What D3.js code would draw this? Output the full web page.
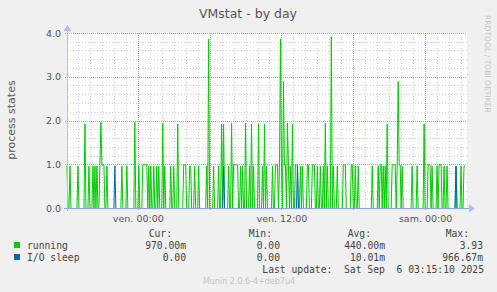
<!DOCTYPE html>
<html>
<head>
<meta charset="utf-8">
<script src="https://cdn.jsdelivr.net/npm/d3@7"></script>
<style>
  body { margin: 0; background: #f0f0f0; }
  svg { display: block; }
  text { font-family: "DejaVu Sans", sans-serif; fill: #555; }
  .mono { font-family: "DejaVu Sans Mono", monospace; white-space: pre; fill: #444; }
  .grid line { shape-rendering: crispEdges; }
</style>
</head>
<body>
<div id="svg-area"></div>
<script>
var svgWidth = 497;
var svgHeight = 292;

// plot area (munin default 400x175)
var plot = { left: 67, top: 33, width: 400, height: 175 };

// data: 5 minute samples, first one at jeu. 18:05
var startTime = new Date(2025, 8, 4, 18, 5);
var stepMinutes = 5;

var running = [
  0.97,0,0,0.97,0,0,0,0,0,0, 0,0.97,0,0,0,0,0,0,1.93,0,
  0,0,0.97,0,0,0,0.97,0,0.97,0, 0.97,0,0,1,1.97,1,1,1,0,0,
  0.97,0,0,0,0,0,0,0,0,0, 0,0,0,0,0,0.97,0,0,0,0,
  0.97,0,0,0,0,0,0,0,1.97,0, 0,0,0.97,0,0,0,1,1,1,1,
  1,0,0.97,0,0.97,0,0,0.97,0,0, 0.97,0,0.97,0,0,0,1.95,0,0.97,0,
  0,0,0,0,0.97,0,0,0.97,0,0, 0,1.93,0,0,0,0,0,1,1,1,
  0,0,0,0.97,0.97,0,0,0,0.97,0, 0,0,0.97,0,0,0,0,0,0,0,
  0.97,0,3.87,0,0,0,0,0.97,0,0, 0,0,0.97,0,0,1.93,0,1.93,0,0,
  0,0,0.97,0,0,1.95,0,1,1,1, 1,1,0,0,0.97,0,0.97,0,0,1.95,
  0,0,0,0.97,0,1.93,0,0.97,0,0, 0,0,1.93,0,0,0,0.97,0,1.93,0,
  0.97,0,0,0,0,0,0.97,0,0,1, 1,1,0,1,3.87,0.97,0,2.9,1,1,
  0,1.95,1,0,0.97,0,1.93,0,0,1, 1,1,0,0,0.97,0,0.97,0,0,0,
  0,1,1,0,0,0,1,1,1,0, 0,0.97,0,0,0.97,0,0,0.97,0,1.95,
  0,0.97,0,0,0,3.93,0,0.97,0,0, 0,0.97,0,0,0,0,0,1,1,1,
  0,0,0,0,0,1,1,0,0,0.97, 0,0,0.97,0,0,0,0,0,0,0,
  0,0,0,0,0,0,0.97,0,0,0, 0,0,0.97,0,1,1,0,0.97,0,0.97,
  0,1.93,0,0,0,0,1,1,1,1, 0,0.97,2.9,1,1,0,0.97,0,0,0,
  0,0,0,0,0,0,0.97,0,0,0, 0,0.97,0,0,0,0,0,0,1.93,0,
  0,0,1,1,1,0,0.97,0,0,0, 0,0.97,0,1,1,1,0,0,0.97,0,
  0,0.97,0,0,0,0,0,0,0,0, 0.97,0,0,0,0,0.97,0,0,0.97,0.97
];

var ioSleep = [
  0,0,0,0,0,0,0,0,0,0, 0,0,0,0,0,0,0,0,0,0,
  0,0,0,0,0,0,0,0,0,0, 0,0,0,0,0,0,0,0,0,0,
  0,0,0,0,0,0,0,0,0.97,0, 0,0,0,0,0,0,0,0,0,0,
  0,0,0,0,0,0,0,0,0,0, 0,0,0,0,0,0,0,0,0,0,
  0,0,0,0,0,0,0,0,0,0, 0,0,0,0,0,0,0,0,0,0,
  0,0,0,0,0,0,0,0,0,0, 0,0,0,0,0,0,0,0,0,0,
  0,0,0,0,0,0,0,0,0,0, 0,0,0,0,0,0,0,0,0,0,
  0,0,0,0,0,0,0,0,0,0, 0,0,0,0,0,0,0,0.97,0,0,
  0,0,0,0,0,0,0,0,0,0, 0,0,0,0,0,0,0,0,0,0,
  0,0,0,0,0,0,0,0,0,0, 0,0,0,0,0,0,0,0,0,0,
  0,0,0,0,0,0,0,0,0,0, 0,0,0,0,0,0,0,0,0,0,
  0,0,0,0,0,0,0,0,0,0, 0,0.97,0,0,0,0,0,0,0,0,
  0,0,0,0,0,0,0,0,0,0, 0,0,0,0,0,0,0,0,0,0,
  0,0,0,0,0,0,0,0,0,0, 0,0,0,0,0,0,0,0,0,0,
  0,0,0,0,0,0,0,0,0,0, 0,0,0,0,0,0,0,0,0,0,
  0,0,0,0,0,0,0,0,0,0, 0,0,0,0,0,0,0,0,0,0,
  0,0,0,0,0,0,0,0,0,0, 0,0,0,0,0,0,0,0,0,0,
  0,0,0,0,0,0,0,0,0,0, 0,0,0,0,0,0,0,0,0,0,
  0,0,0,0,0,0,0,0,0,0, 0,0,0,0,0,0,0,0,0,0,
  0,0,0,0,0,0,0,0,0,0, 0.97,0,0,0,0,0,0,0,0,0
];

var yTicks = [0, 1, 2, 3, 4];
var xTickTimes = [new Date(2025, 8, 5, 0, 0), new Date(2025, 8, 5, 12, 0), new Date(2025, 8, 6, 0, 0)];
var xTickLabels = ["ven. 00:00", "ven. 12:00", "sam. 00:00"];

var seriesNames = ["running", "I/O sleep"];
var seriesColors = ["#00cc00", "#0066b3"];
var statHeads = ["Cur:", "Min:", "Avg:", "Max:"];
var statValues = [
  ["970.00m", "0.00", "440.00m", "3.93"],
  ["0.00", "0.00", "10.01m", "966.67m"]
];
var lastUpdate = "Last update:  Sat Sep  6 03:15:10 2025";

function timeAt(i) {
  return new Date(startTime.getTime() + i * stepMinutes * 60000);
}
var endTime = timeAt(running.length + 1);

var svg = d3.select("#svg-area").append("svg")
  .attr("width", svgWidth)
  .attr("height", svgHeight);

svg.append("rect").attr("width", svgWidth).attr("height", svgHeight).attr("fill", "#f0f0f0");

var xScale = d3.scaleTime()
  .domain([startTime, endTime])
  .range([plot.left, plot.left + plot.width]);

var yScale = d3.scaleLinear()
  .domain([0, 4])
  .range([plot.top + plot.height, plot.top]);

// white canvas
svg.append("rect")
  .attr("x", plot.left).attr("y", plot.top)
  .attr("width", plot.width).attr("height", plot.height)
  .attr("fill", "#fff");

var grid = svg.append("g").attr("class", "grid");
function px(v) { return Math.round(v) + 0.5; }

// minor grid
var minorH = d3.range(0.2, 4.01, 0.2).filter(function(v) { return Math.abs(v - Math.round(v)) > 0.01; });
grid.selectAll(".hmin").data(minorH).enter().append("line")
  .attr("x1", plot.left).attr("x2", plot.left + plot.width)
  .attr("y1", function(d) { return px(yScale(d)); })
  .attr("y2", function(d) { return px(yScale(d)); })
  .attr("stroke", "#d0d0d0").attr("stroke-dasharray", "1,2");

var hours = d3.timeHour.every(1).range(startTime, endTime);
var minorV = hours.filter(function(d) { return d.getHours() % 6 != 0; });
var majorV = hours.filter(function(d) { return d.getHours() % 6 == 0; });

grid.selectAll(".vmin").data(minorV).enter().append("line")
  .attr("x1", function(d) { return px(xScale(d)); })
  .attr("x2", function(d) { return px(xScale(d)); })
  .attr("y1", plot.top).attr("y2", plot.top + plot.height + 2)
  .attr("stroke", "#d0d0d0").attr("stroke-dasharray", "1,2");

// major grid
var majorColor = "#ee9090";
grid.selectAll(".hmaj").data(yTicks.slice(1)).enter().append("line")
  .attr("x1", plot.left - 2).attr("x2", plot.left + plot.width)
  .attr("y1", function(d) { return px(yScale(d)); })
  .attr("y2", function(d) { return px(yScale(d)); })
  .attr("stroke", majorColor).attr("stroke-dasharray", "1,1");

grid.selectAll(".vmaj").data(majorV).enter().append("line")
  .attr("x1", function(d) { return px(xScale(d)); })
  .attr("x2", function(d) { return px(xScale(d)); })
  .attr("y1", plot.top).attr("y2", plot.top + plot.height + 3)
  .attr("stroke", majorColor).attr("stroke-dasharray", "1,1");

// series lines (not pixel-snapped in x, like rrdtool's antialiased lines)
var line = d3.line()
  .x(function(d, i) { return xScale(timeAt(i)); })
  .y(function(d) { return yScale(d) + 0.5; });

[running, ioSleep].forEach(function(series, k) {
  svg.append("path")
    .datum(series)
    .attr("fill", "none")
    .attr("stroke", seriesColors[k])
    .attr("stroke-width", 1)
    .attr("d", line);
});

// axes lines with arrows
var axisColor = "#b8b8f0";
svg.append("line")
  .attr("x1", plot.left - 3).attr("x2", plot.left + plot.width + 3)
  .attr("y1", px(yScale(0))).attr("y2", px(yScale(0)))
  .attr("stroke", "#8aa4e0");
svg.append("line")
  .attr("x1", px(plot.left)).attr("x2", px(plot.left))
  .attr("y1", plot.top + plot.height + 3).attr("y2", plot.top - 3)
  .attr("stroke", axisColor);
svg.append("path")
  .attr("d", "M" + (plot.left + plot.width + 2) + "," + (px(yScale(0)) - 4) + " l6,4 l-6,4 z")
  .attr("fill", axisColor);
svg.append("path")
  .attr("d", "M" + (px(plot.left) - 4) + "," + (plot.top - 2) + " l4,-6 l4,6 z")
  .attr("fill", axisColor);

// y axis labels
var yAxis = d3.axisLeft(yScale)
  .tickValues(yTicks)
  .tickFormat(d3.format(".1f"))
  .tickSize(0)
  .tickPadding(6);
var yg = svg.append("g").attr("transform", "translate(" + plot.left + ",0)").call(yAxis);
yg.select(".domain").remove();
yg.selectAll("text").style("font-size", "9.5px").style("fill", "#555").style("font-family", "DejaVu Sans");

// x axis labels
var xAxis = d3.axisBottom(xScale)
  .tickValues(xTickTimes)
  .tickFormat(function(d, i) { return xTickLabels[i]; })
  .tickSize(0)
  .tickPadding(7);
var xg = svg.append("g").attr("transform", "translate(0," + (plot.top + plot.height) + ")").call(xAxis);
xg.select(".domain").remove();
xg.selectAll("text").style("font-size", "9.5px").style("fill", "#555").style("font-family", "DejaVu Sans");

// title and side texts
svg.append("text")
  .attr("x", 248).attr("y", 18)
  .attr("text-anchor", "middle")
  .style("font-size", "12.5px")
  .text("VMstat - by day");

svg.append("text")
  .attr("transform", "translate(15,120) rotate(-90)")
  .attr("text-anchor", "middle")
  .style("font-size", "11px")
  .text("process states");

svg.append("text")
  .attr("transform", "translate(485,15) rotate(90)")
  .style("font-size", "7.6px")
  .style("fill", "#c4c4c4")
  .text("RRDTOOL / TOBI OETIKER");

// legend
var headX = [172, 272, 371, 469];
svg.selectAll(".head").data(statHeads).enter().append("text")
  .attr("class", "mono")
  .attr("x", function(d, i) { return headX[i]; })
  .attr("y", 237)
  .attr("text-anchor", "end")
  .style("font-size", "9.7px")
  .text(function(d) { return d; });

var valueRight = [186, 280, 385, 483];
seriesNames.forEach(function(name, k) {
  var yy = 249 + k * 12;
  svg.append("rect")
    .attr("x", 14).attr("y", yy - 7)
    .attr("width", 6).attr("height", 6)
    .attr("fill", seriesColors[k]);
  svg.append("text")
    .attr("class", "mono")
    .attr("x", 27).attr("y", yy)
    .style("font-size", "9.7px")
    .text(name);
  svg.selectAll(".val" + k).data(statValues[k]).enter().append("text")
    .attr("class", "mono")
    .attr("x", function(d, i) { return valueRight[i]; })
    .attr("y", yy)
    .attr("text-anchor", "end")
    .style("font-size", "9.7px")
    .text(function(d) { return d; });
});

svg.append("text")
  .attr("class", "mono")
  .attr("x", 484).attr("y", 273)
  .attr("text-anchor", "end")
  .style("font-size", "9.7px")
  .text(lastUpdate);

svg.append("text")
  .attr("x", 249).attr("y", 284)
  .attr("text-anchor", "middle")
  .style("font-size", "8px")
  .style("fill", "#c4c4c4")
  .text("Munin 2.0.6-4+deb7u4");
</script>
</body>
</html>
